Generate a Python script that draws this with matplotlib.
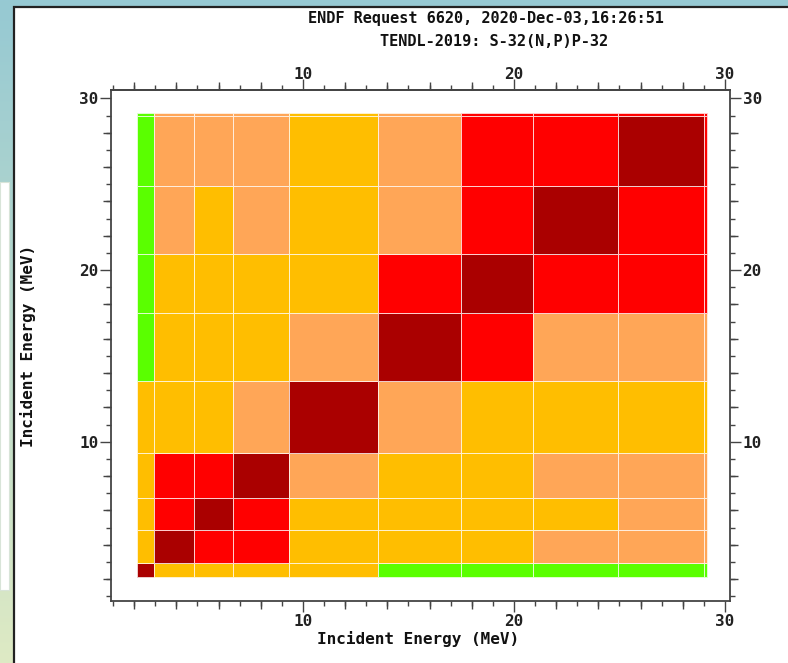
import numpy as np
import matplotlib.pyplot as plt
from matplotlib.colors import ListedColormap, BoundaryNorm
from matplotlib.patches import Rectangle
from matplotlib.ticker import MultipleLocator

title_lines = ["ENDF Request 6620, 2020-Dec-03,16:26:51",
               "TENDL-2019: S-32(N,P)P-32"]
axis_label = "Incident Energy (MeV)"

# group boundaries in MeV, same grid on both axes
energy_edges = [2.12, 2.92, 4.84, 6.70, 9.33, 13.54, 17.48, 20.92, 24.91, 28.99, 29.17]

# colour class of each cell, row 0 = lowest incident energy
# 0 green, 1 amber, 2 light orange, 3 red, 4 dark red
levels = [
    [4, 1, 1, 1, 1, 0, 0, 0, 0, 0],
    [1, 4, 3, 3, 1, 1, 1, 2, 2, 2],
    [1, 3, 4, 3, 1, 1, 1, 1, 2, 2],
    [1, 3, 3, 4, 2, 1, 1, 2, 2, 2],
    [1, 1, 1, 2, 4, 2, 1, 1, 1, 1],
    [0, 1, 1, 1, 2, 4, 3, 2, 2, 2],
    [0, 1, 1, 1, 1, 3, 4, 3, 3, 3],
    [0, 2, 1, 2, 1, 2, 3, 4, 3, 3],
    [0, 2, 2, 2, 1, 2, 3, 3, 4, 3],
    [0, 2, 2, 2, 1, 2, 3, 3, 3, 3],
]
level_colors = ["#5aff00", "#ffbe00", "#ffa657", "#ff0000", "#aa0000"]

xlim = (0.9, 30.24)
ylim = (0.72, 30.49)
major_ticks = [10, 20, 30]
minor_ticks = list(range(1, 31))
mid_ticks = [v for v in range(2, 31, 2) if v % 10]

W, H = 788, 663


def fx(px):
    return px / W


def fy(py):
    return 1 - py / H


def style_labels(labels):
    for lab in labels:
        lab.set_fontfamily("DejaVu Sans Mono")
        lab.set_fontweight("bold")
        lab.set_fontsize(11.5)
        lab.set_color("#222222")


fig = plt.figure(figsize=(W / 100, H / 100), dpi=100, facecolor="#96c9d3")

# left gradient strip
gax = fig.add_axes([0, 0, fx(14), 1], zorder=-3)
top_c = np.array([150, 201, 211]) / 255
bot_c = np.array([222, 234, 196]) / 255
t = np.linspace(0, 1, 256)[:, None]
grad = (top_c[None, :] * (1 - t) + bot_c[None, :] * t)[:, None, :]
gax.imshow(grad, aspect="auto", extent=[0, 1, 0, 1])
gax.set_axis_off()

fig.patches.append(Rectangle((0, fy(590)), fx(9), (590 - 182) / H,
                             transform=fig.transFigure, facecolor="white",
                             edgecolor="#d8e4d8", lw=0.8, zorder=-2))
fig.patches.append(Rectangle((fx(14), -0.05), 1.0, fy(7) + 0.05,
                             transform=fig.transFigure, facecolor="white",
                             edgecolor="#222222", lw=1.6, zorder=-2))

rect = [fx(111), fy(601), fx(730) - fx(111), (601 - 90) / H]
ax = fig.add_axes(rect, zorder=2)
ax.set_facecolor("white")

cmap = ListedColormap(level_colors)
norm = BoundaryNorm([-0.5, 0.5, 1.5, 2.5, 3.5, 4.5], cmap.N)
ax.pcolormesh(energy_edges, energy_edges, np.array(levels), cmap=cmap, norm=norm,
              edgecolors=(1, 1, 1, 0.8), linewidth=0.65)

ax.set_xlim(*xlim)
ax.set_ylim(*ylim)

ax.set_xticks(major_ticks)
ax.set_yticks(major_ticks)
ax.set_xticks(minor_ticks, minor=True)
ax.set_yticks(minor_ticks, minor=True)

ax.tick_params(which="both", direction="out", top=False, right=True,
               labeltop=False, labelright=True, color="#444444", width=1.0)
ax.tick_params(which="major", length=8, pad=1)
ax.tick_params(which="minor", length=3.5)
style_labels(ax.get_xticklabels() + ax.get_yticklabels())
for s in ax.spines.values():
    s.set_color("#444444")
    s.set_linewidth(1.3)

# top axis: labels sit closer to the ticks
sec = ax.secondary_xaxis("top")
sec.set_xticks(major_ticks)
sec.set_xticks(minor_ticks, minor=True)
sec.tick_params(which="both", direction="out", color="#444444", width=1.0)
sec.tick_params(which="major", length=8, pad=-2.5)
sec.tick_params(which="minor", length=3.5)
sec.spines["top"].set_color("#444444")
sec.spines["top"].set_linewidth(1.3)
style_labels(sec.get_xticklabels())

# medium ticks at even values
tax = fig.add_axes(rect, zorder=3, frameon=False)
tax.patch.set_visible(False)
tax.set_xlim(*xlim)
tax.set_ylim(*ylim)
tax.set_xticks(mid_ticks)
tax.set_yticks(mid_ticks)
tax.tick_params(direction="out", top=True, right=True, bottom=True, left=True,
                labelbottom=False, labelleft=False, length=5.5, width=1.0,
                color="#444444")

mono = dict(family="DejaVu Sans Mono", fontweight="bold", color="#111111")
fig.text(fx(486), fy(19), title_lines[0], ha="center", va="center", fontsize=11, **mono)
fig.text(fx(494), fy(41), title_lines[1], ha="center", va="center", fontsize=11, **mono)
fig.text(fx(418), fy(639), axis_label, ha="center", va="center", fontsize=11.5, **mono)
fig.text(fx(28), fy(346), axis_label, ha="center", va="center", rotation=90,
         fontsize=11.5, **mono)

fig.savefig("out.png", dpi=100, facecolor=fig.get_facecolor())
